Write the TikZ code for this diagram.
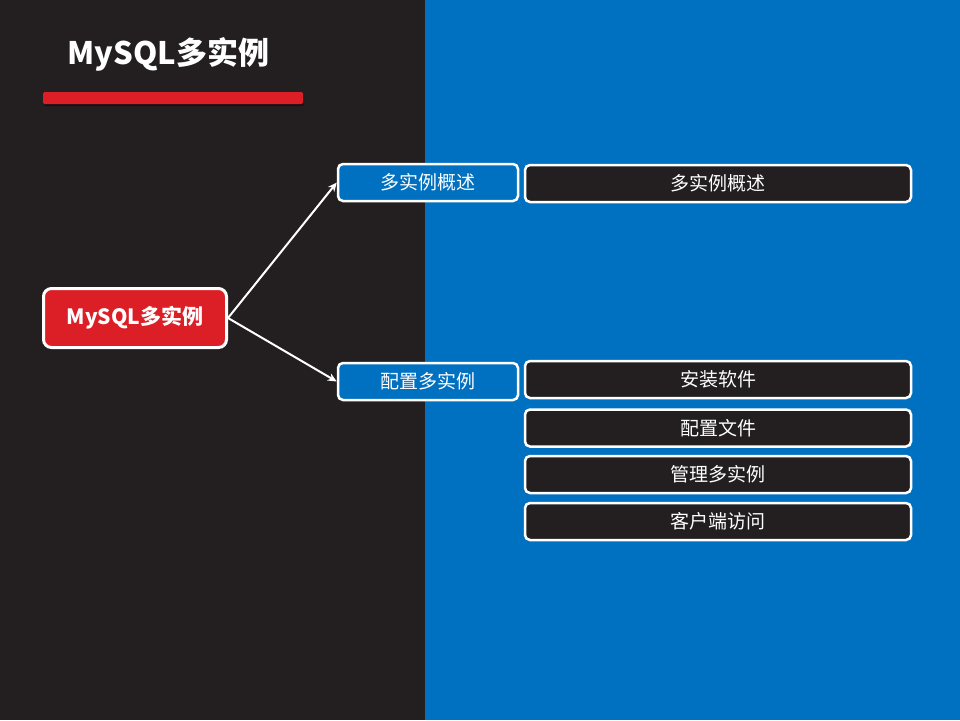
\documentclass[tikz,border=0pt]{standalone}
\usepackage{fontspec}
\setmainfont{Noto Sans CJK SC}
\usetikzlibrary{arrows.meta,shadows}

\definecolor{darkbg}{HTML}{231F20}
\definecolor{bluebg}{HTML}{0070C0}
\definecolor{redbox}{HTML}{DC1F26}

\tikzset{
  rootbox/.style={draw=white, line width=3pt, fill=redbox, rounded corners=8pt,
    minimum width=183pt, minimum height=59pt, inner sep=0pt, text=white,
    font=\bfseries\fontsize{21}{21}\selectfont},
  topicbox/.style={draw=white, line width=2.5pt, fill=bluebg, rounded corners=5pt,
    minimum width=180pt, minimum height=37pt, inner sep=0pt, text=white,
    font=\fontsize{19}{19}\selectfont},
  itembox/.style={draw=white, line width=2.5pt, fill=darkbg, rounded corners=5pt,
    minimum width=386pt, minimum height=37pt, inner sep=0pt, text=white,
    font=\fontsize{19}{19}\selectfont},
  conn/.style={draw=white, line width=2pt, -{Stealth[length=9pt,width=8pt]}},
}

\begin{document}
\begin{tikzpicture}[x=1pt,y=-1pt]

    \useasboundingbox (0,0) rectangle (960,720);
    \fill[darkbg] (0,0) rectangle (425,720);
    \fill[bluebg] (425,0) rectangle (960,720);

    % title and bar
    \node[text=white, font=\bfseries\fontsize{31}{31}\selectfont, anchor=west] (title) at (64,54) {MySQL多实例};
    \fill[redbox, rounded corners=1.5pt, drop shadow={shadow xshift=1pt, shadow yshift=-2pt, opacity=0.4, fill=black}] (43,92) rectangle (303,104);

    % mind map
    \node[rootbox] (root) at (135,318) {MySQL多实例};

    \node[topicbox] (overview) at (428,182.5) {多实例概述};
    \node[topicbox] (config)   at (428,381.5) {配置多实例};

    \node[itembox] (ovitem)  at (718,183.5) {多实例概述};
    \node[itembox] (install) at (718,379.5) {安装软件};
    \node[itembox] (cnffile) at (718,428)   {配置文件};
    \node[itembox] (manage)  at (718,474.5) {管理多实例};
    \node[itembox] (client)  at (718,521.5) {客户端访问};

    \draw[conn] (root.east) -- (overview.west);
    \draw[conn] (root.east) -- (config.west);

\end{tikzpicture}
\end{document}
